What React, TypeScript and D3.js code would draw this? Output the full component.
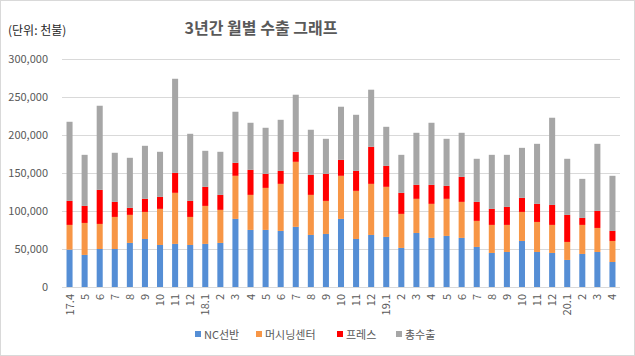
import React from "react";
import * as d3 from "d3";

const categories = ["17.4","5","6","7","8","9","10","11","12","18.1","2","3","4","5","6","7","8","9","10","11","12","19.1","2","3","4","5","6","7","8","9","10","11","12","20.1","2","3","4"];
const ncLathe = [49.2,42.2,50.0,50.0,58.0,63.2,55.3,56.7,55.3,56.7,58.0,89.6,75.1,75.1,73.8,79.1,68.5,69.8,89.6,63.2,68.5,65.9,51.4,71.1,64.6,67.2,64.6,52.7,44.8,46.1,60.6,46.1,44.8,35.6,43.5,46.1,32.9];
const machining = [32.5,42.1,33.0,42.2,36.9,35.6,47.5,67.2,36.9,50.0,43.5,56.7,46.1,55.3,61.9,85.6,52.7,43.5,56.7,63.3,67.2,65.9,44.8,44.9,44.8,48.8,47.4,34.3,36.9,35.6,38.2,39.5,36.9,23.7,38.2,31.6,27.7];
const press = [31.6,22.4,44.8,19.8,9.2,17.2,15.8,26.3,21.1,25.1,19.7,17.1,33.0,18.5,17.1,13.2,26.4,35.6,21.0,26.3,48.8,27.6,27.7,18.4,25.0,17.1,32.9,25.0,21.1,23.7,18.5,23.8,26.3,35.6,9.2,22.4,13.2];
const totalExport = [104.1,67.2,110.7,64.6,65.9,69.8,59.3,123.8,88.3,47.4,56.7,67.2,61.9,60.6,67.2,75.1,59.3,46.1,69.9,73.8,75.1,51.4,50.0,68.5,81.7,61.9,58.0,56.7,71.1,68.5,65.8,79.0,114.7,73.8,51.4,88.3,72.5];
const seriesNames = ["NC선반", "머시닝센터", "프레스", "총수출"];
const seriesColors = ["#558ed5", "#f79646", "#ff0000", "#a6a6a6"];
const yTicks = [0, 50000, 100000, 150000, 200000, 250000, 300000];

const W = 635, H = 356;
const FONT = "'Noto Sans CJK KR', 'Noto Sans', sans-serif";

export default function App() {
  const rows = categories.map((c, i) => ({
    idx: String(i),
    s0: ncLathe[i] * 1000,
    s1: machining[i] * 1000,
    s2: press[i] * 1000,
    s3: totalExport[i] * 1000,
  }));
  const keys = ["s0", "s1", "s2", "s3"];
  const stacked = d3.stack<any>().keys(keys)(rows);
  const x = d3.scaleBand().domain(rows.map(r => r.idx)).range([62, 620]).paddingInner(0.6).paddingOuter(0.3);
  const y = d3.scaleLinear().domain([0, 300000]).range([287, 59]);
  const fmt = d3.format(",");
  const legendX = [195, 256, 337, 396];

  return (
    <div style={{ position: "absolute", left: 0, top: 0 }}>
      <svg width={W} height={H} style={{ display: "block", fontFamily: FONT }}>
        <rect x={0.5} y={0.5} width={W - 1} height={H - 1} fill="#fff" stroke="#d9d9d9" />
        <text x={8} y={35} fontSize={12} fill="#262626">(단위: 천불)</text>
        <text x={261} y={34} fontSize={16} fontWeight="bold" fill="#595959" textAnchor="middle">3년간 월별 수출 그래프</text>
        {yTicks.map(t => (
          <g key={t}>
            <line x1={62} x2={620} y1={Math.round(y(t)) + 0.5} y2={Math.round(y(t)) + 0.5} stroke="#d9d9d9" />
            <text x={48} y={y(t) + 4} fontSize={11} fill="#595959" textAnchor="end">{fmt(t)}</text>
          </g>
        ))}
        {stacked.map((layer, li) => (
          <g key={li} fill={seriesColors[li]}>
            {layer.map((d: any, i: number) => (
              <rect key={i} x={x(String(i))} width={x.bandwidth()} y={y(d[1])} height={y(d[0]) - y(d[1])} />
            ))}
          </g>
        ))}
        {categories.map((c, i) => {
          const cx = (x(String(i)) as number) + x.bandwidth() / 2;
          return (
            <text key={i} transform={`translate(${cx + 4},294) rotate(-90)`} fontSize={11} fill="#595959" textAnchor="end">{c}</text>
          );
        })}
        {seriesNames.map((n, i) => (
          <g key={n}>
            <rect x={legendX[i]} y={331} width={6} height={6} fill={seriesColors[i]} />
            <text x={legendX[i] + 9} y={338.5} fontSize={11} fill="#595959">{n}</text>
          </g>
        ))}
      </svg>
    </div>
  );
}
